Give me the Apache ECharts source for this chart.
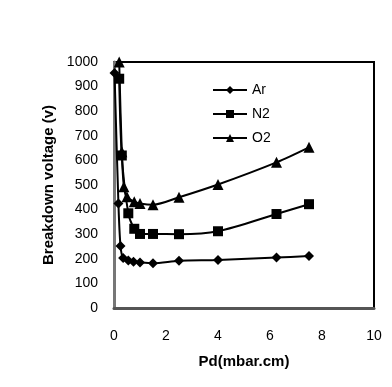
<!DOCTYPE html>
<html><head><meta charset="utf-8">
<script src="https://cdn.jsdelivr.net/npm/echarts@6/dist/echarts.min.js"></script>
<style>html,body{margin:0;padding:0;background:#fff}#c{width:392px;height:387px}</style>
</head><body><div id="c"></div>
<script>
var seriesNames = ['Ar', 'N2', 'O2'];
var arData = [[0.02,955],[0.17,425],[0.25,252],[0.35,203],[0.55,193],[0.75,188],[1.0,185],[1.5,182],[2.5,192],[4.0,195],[6.25,205],[7.5,211]];
var n2Data = [[0.2,932],[0.3,620],[0.55,385],[0.78,322],[1.0,301],[1.5,301],[2.5,300],[4.0,312],[6.25,382],[7.5,422]];
var o2Data = [[0.2,1000],[0.3,635],[0.38,493],[0.5,452],[0.78,432],[1.0,425],[1.5,420],[2.5,450],[4.0,502],[6.25,592],[7.5,653]];
var xTicks = [0, 2, 4, 6, 8, 10];
var yTicks = [0,100,200,300,400,500,600,700,800,900,1000];

var font = '"Liberation Sans", Arial, sans-serif';
var chart = echarts.init(document.getElementById('c'));
function mk(name, data, sym, size) {
  return {
    name: name, type: 'line', data: data, smooth: 0.3,
    symbol: sym, symbolSize: size,
    lineStyle: {color: '#000', width: 2},
    itemStyle: {color: '#000'},
    animation: false
  };
}
chart.setOption({
  animation: false,
  grid: {left: 114, right: 18, top: 62, bottom: 79, show: true, borderColor: '#000', borderWidth: 2},
  legend: {
    orient: 'vertical', left: 212, top: 83, padding: 0, itemWidth: 34, itemHeight: 10, itemGap: 10,
    textStyle: {color: '#000', fontFamily: font, fontSize: 14},
    data: seriesNames
  },
  xAxis: {
    type: 'value', min: xTicks[0], max: xTicks[xTicks.length-1], interval: 2,
    name: 'Pd(mbar.cm)', nameLocation: 'middle', nameGap: 46,
    nameTextStyle: {color: '#000', fontWeight: 'bold', fontFamily: font, fontSize: 15},
    axisLine: {show: true, lineStyle: {color: '#555', width: 3}},
    axisTick: {show: false}, splitLine: {show: false},
    axisLabel: {color: '#000', fontFamily: font, fontSize: 14, margin: 21,
      formatter: function (v) { return String(v); }}
  },
  yAxis: {
    type: 'value', min: yTicks[0], max: yTicks[yTicks.length-1], interval: 100,
    name: 'Breakdown voltage (v)', nameLocation: 'middle', nameGap: 56,
    nameTextStyle: {color: '#000', fontWeight: 'bold', fontFamily: font, fontSize: 15},
    axisLine: {show: true, lineStyle: {color: '#777', width: 3}},
    axisTick: {show: false}, splitLine: {show: false},
    axisLabel: {color: '#000', fontFamily: font, fontSize: 14, margin: 16,
      formatter: function (v) { return String(v); }}
  },
  series: [
    mk(seriesNames[0], arData, 'diamond', 10),
    mk(seriesNames[1], n2Data, 'rect', 10),
    mk(seriesNames[2], o2Data, 'triangle', 11)
  ]
});
</script></body></html>
